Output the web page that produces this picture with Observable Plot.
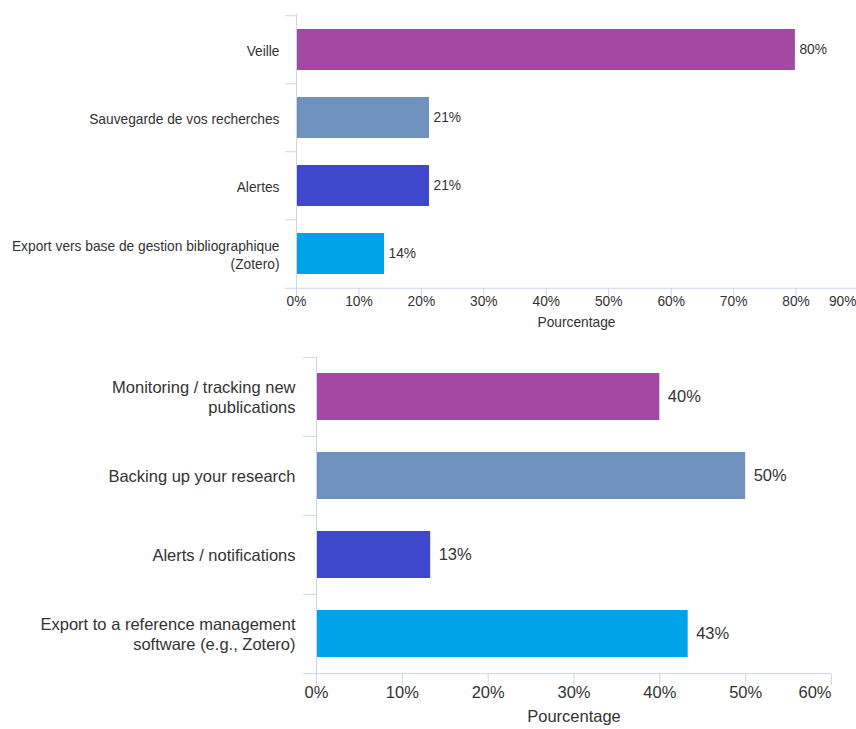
<!DOCTYPE html>
<html>
<head>
<meta charset="utf-8">
<script src="https://cdn.jsdelivr.net/npm/d3@7"></script>
<script src="https://cdn.jsdelivr.net/npm/@observablehq/plot@0.6"></script>
<style>
  body { margin: 0; background: #fff; font-family: "Liberation Sans", Arial, sans-serif; }
  #c { position: relative; width: 856px; height: 729px; overflow: hidden; }
  #c svg { position: absolute; left: 0; display: block; }
</style>
</head>
<body>
<div id="c"></div>
<script>
// ---- Data ----
const categoriesFr = ["Veille", "Sauvegarde de vos recherches", "Alertes", "Export vers base de gestion bibliographique\n(Zotero)"];
const valuesFr = [0.799, 0.213, 0.213, 0.141];
const valueLabelsFr = ["80%", "21%", "21%", "14%"];
const ticksFr = [0, 0.1, 0.2, 0.3, 0.4, 0.5, 0.6, 0.7, 0.8, 0.9];

const categoriesEn = ["Monitoring / tracking new\npublications", "Backing up your research", "Alerts / notifications", "Export to a reference management\nsoftware (e.g., Zotero)"];
const valuesEn = [0.40, 0.50, 0.133, 0.433];
const valueLabelsEn = ["40%", "50%", "13%", "43%"];
const ticksEn = [0, 0.1, 0.2, 0.3, 0.4, 0.5, 0.6];

const barColors = ["#a349a4", "#7092be", "#3f48cc", "#00a2e8"];
const axisTitle = "Pourcentage";

const axisColor = "#ccd6eb";
const textColor = "#333333";
const fmt = d3.format(".0%");

function chart(cfg) {
  const {cats, vals, labels, ticks, height, top, bottom, x0, x1, fs, sep, gap, tickLen, tickDy, titleDy, valueDx, lh, lastDx} = cfg;
  const data = cats.map((c, i) => ({c, v: vals[i], l: labels[i]}));
  const step = (height - top - bottom) / cats.length;
  const last = ticks[ticks.length - 1];
  const inner = ticks.slice(0, -1);
  return Plot.plot({
    width: 856,
    height,
    marginTop: top,
    marginBottom: bottom,
    marginLeft: x0,
    marginRight: Math.max(0, 856 - x1),
    style: {fontFamily: '"Liberation Sans", Arial, sans-serif', color: textColor, background: "transparent", overflow: "visible"},
    x: {domain: [0, last], range: [x0, x1], axis: null, label: null},
    y: {domain: cats, paddingInner: 0.4, paddingOuter: 0.2, axis: null, label: null},
    color: {domain: cats, range: barColors},
    marks: [
      Plot.barX(data, {x: "v", y: "c", fill: "c"}),
      Plot.text(data, {x: "v", y: "c", text: "l", textAnchor: "start", dx: valueDx, fontSize: fs, fill: textColor}),
      // category labels
      Plot.text(data, {y: "c", text: "c", frameAnchor: "left", textAnchor: "end", dx: -gap, fontSize: fs, lineHeight: lh, fill: textColor}),
      // y axis line
      Plot.ruleX([0], {stroke: axisColor}),
      // band separators on the y axis
      Plot.ruleY(cats, {y: d => d, dy: -step / 2, x1: d => 0, x2: d => 0, insetLeft: -sep, stroke: axisColor}),
      // x axis line
      Plot.ruleY([cats[cats.length - 1]], {y: d => d, dy: step / 2, x1: d => 0, x2: d => last, insetLeft: -sep, stroke: axisColor}),
      // x ticks
      Plot.axisX(ticks, {text: null, label: null, tickSize: tickLen, stroke: axisColor}),
      Plot.text(inner, {x: d => d, text: d => fmt(d), frameAnchor: "bottom", dy: tickDy, fontSize: fs, fill: textColor}),
      Plot.text([last], {x: d => d, text: d => fmt(d), frameAnchor: "bottom", textAnchor: "end", dx: lastDx, dy: tickDy, fontSize: fs, fill: textColor}),
      // axis title
      Plot.text([axisTitle], {frameAnchor: "bottom", text: d => d, dy: titleDy, fontSize: fs, fill: textColor})
    ]
  });
}

const c1 = chart({
  cats: categoriesFr, vals: valuesFr, labels: valueLabelsFr, ticks: ticksFr,
  height: 340, top: 14, bottom: 52, x0: 296, x1: 858, fs: 13.75, sep: 11, gap: 17,
  tickLen: 9, tickDy: 17, titleDy: 38, valueDx: 4, lh: 1.3, lastDx: -2
});
c1.style.top = "0px";

const c2 = chart({
  cats: categoriesEn, vals: valuesEn, labels: valueLabelsEn, ticks: ticksEn,
  height: 389, top: 17, bottom: 55, x0: 316, x1: 831, fs: 16.5, sep: 13, gap: 21,
  tickLen: 11, tickDy: 23, titleDy: 47, valueDx: 8, lh: 1.2, lastDx: 0
});
c2.style.top = "340px";

const root = document.getElementById("c");
root.append(c1, c2);
</script>
</body>
</html>
